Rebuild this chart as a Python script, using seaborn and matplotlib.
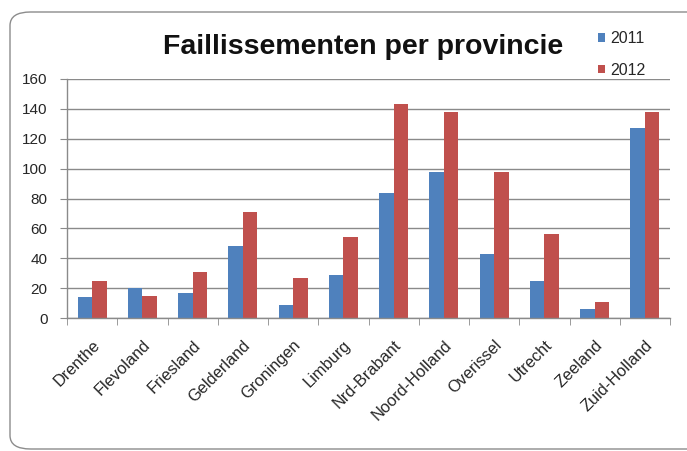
import matplotlib
matplotlib.use("Agg")
import matplotlib.pyplot as plt
import seaborn as sns
import pandas as pd
import numpy as np
from matplotlib.patches import FancyBboxPatch
from matplotlib.ticker import FixedLocator

provinces = ["Drenthe", "Flevoland", "Friesland", "Gelderland", "Groningen", "Limburg",
             "Nrd-Brabant", "Noord-Holland", "Overissel", "Utrecht", "Zeeland", "Zuid-Holland"]
values_2011 = [14, 20, 17, 48, 9, 29, 84, 98, 43, 25, 6, 127]
values_2012 = [25, 15, 31, 71, 27, 54, 143, 138, 98, 56, 11, 138]
years = ["2011", "2012"]
yticks = [0, 20, 40, 60, 80, 100, 120, 140, 160]

df = pd.DataFrame({
    "provincie": provinces * 2,
    "jaar": [years[0]] * len(provinces) + [years[1]] * len(provinces),
    "aantal": values_2011 + values_2012,
})

sns.set_style("white")
plt.rcParams["font.family"] = ["Liberation Sans", "DejaVu Sans"]

fig = plt.figure(figsize=(6.87, 4.51), dpi=100)
ax = fig.add_axes([67 / 687, 1 - 318 / 451, (670 - 67) / 687, (318 - 79) / 451])

# rounded chart-area frame
frame = FancyBboxPatch((10 / 687, 2 / 451), 700 / 687, 437 / 451,
                       boxstyle="round,pad=0,rounding_size=0.03",
                       transform=fig.transFigure, facecolor="none",
                       edgecolor="#8c8c8c", linewidth=1.0, clip_on=False)
fig.patches.append(frame)

sns.barplot(data=df, x="provincie", y="aantal", hue="jaar",
            palette=["#4F81BD", "#C0504D"], width=0.58, gap=0,
            saturation=1, ax=ax, legend=True, errorbar=None, linewidth=0)

ax.set_ylim(0, 160)
ax.set_xlim(-0.5, len(provinces) - 0.5)
ax.set_yticks(yticks)
ax.set_yticklabels([str(v) for v in yticks], fontsize=11)
ax.yaxis.grid(True, color="#8a8a8a", linewidth=1.0)
ax.set_axisbelow(True)
ax.set_xlabel("")
ax.set_ylabel("")

ax.set_xticks(range(len(provinces)))
ax.set_xticklabels(provinces, rotation=45, ha="right", rotation_mode="anchor", fontsize=11.8)
ax.tick_params(axis="x", which="major", length=0, pad=14)
ax.xaxis.set_minor_locator(FixedLocator(np.arange(-0.5, len(provinces), 1.0)))
ax.tick_params(axis="x", which="minor", length=5, color="#8a8a8a", direction="out", bottom=True)
ax.tick_params(axis="y", length=5, color="#8a8a8a", direction="out", left=True, pad=9)

for side in ["top", "right"]:
    ax.spines[side].set_visible(False)
for side in ["left", "bottom"]:
    ax.spines[side].set_color("#8a8a8a")
    ax.spines[side].set_linewidth(1.0)

fig.text(363 / 687, 1 - 47 / 451, "Faillissementen per provincie", ha="center", va="center",
         fontsize=20.5, fontweight="bold", color="#111111")

handles, labels = ax.get_legend_handles_labels()
ax.get_legend().remove()
fig.legend(handles, labels, loc="upper left", bbox_to_anchor=(598 / 687, 1 - 31 / 451),
           frameon=False, fontsize=11.5, handlelength=0.45, handleheight=0.45,
           handletextpad=0.3, labelspacing=1.05, borderaxespad=0, borderpad=0)

fig.savefig("out.png", dpi=100)
